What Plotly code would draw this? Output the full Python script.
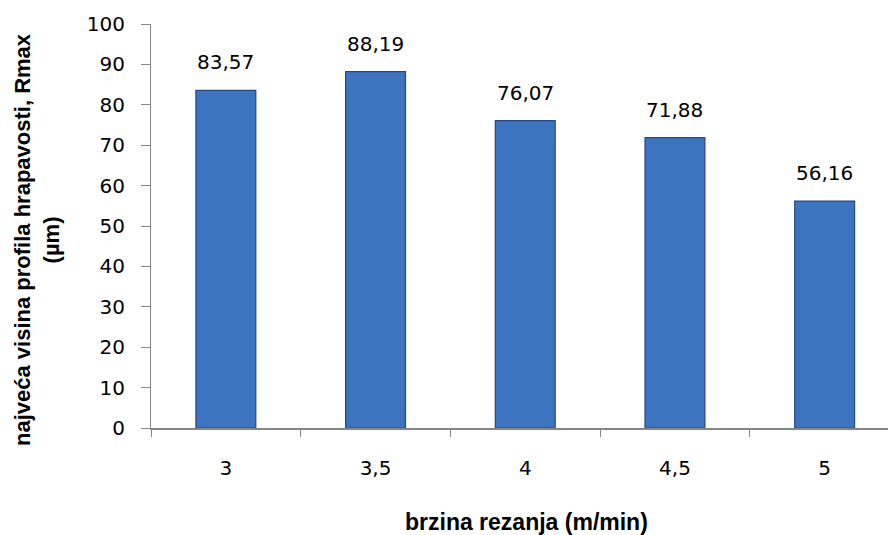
import plotly.graph_objects as go

categories = ["3", "3,5", "4", "4,5", "5"]
values = [83.57, 88.19, 76.07, 71.88, 56.16]
y_ticks = [0, 10, 20, 30, 40, 50, 60, 70, 80, 90, 100]

x_title = "brzina rezanja (m/min)"
y_title = "najveća visina profila hrapavosti, Rmax<br>(µm)"

NUM_FONT = "DejaVu Sans, Verdana, sans-serif"
TITLE_FONT = "Liberation Sans, Arial, sans-serif"
AXIS_COLOR = "#868686"

W, H = 888, 535
ML, MR, MT, MB = 151, 0, 24, 107
plot_w = W - ML - MR
plot_h = H - MT - MB

fig = go.Figure()
fig.add_trace(go.Bar(
    x=categories,
    y=values,
    marker=dict(color="#3C74C0", line=dict(color="#25487E", width=1.2)),
    width=0.4,
    hoverinfo="x+y",
))

labels = [f"{v:.2f}".replace(".", ",") for v in values]
for i, (v, t) in enumerate(zip(values, labels)):
    fig.add_annotation(x=i, y=v, text=t, showarrow=False, xref="x", yref="y",
                       yanchor="bottom", yshift=14,
                       font=dict(family=NUM_FONT, size=20, color="#000000"))

# axis titles
fig.add_annotation(text=y_title, xref="paper", yref="paper",
                   x=-(ML - 37) / plot_w, y=(MT + plot_h - 240) / plot_h,
                   xanchor="center", yanchor="middle",
                   textangle=-90, showarrow=False,
                   font=dict(family=TITLE_FONT, size=22, color="#000000", weight="bold"))
fig.add_annotation(text=x_title, xref="paper", yref="paper",
                   x=(526 - ML) / plot_w, y=-(522 - (MT + plot_h)) / plot_h,
                   xanchor="center", yanchor="middle", showarrow=False,
                   font=dict(family=TITLE_FONT, size=23, color="#000000", weight="bold"))

fig.update_layout(
    width=W, height=H,
    margin=dict(l=ML, r=MR, t=MT, b=MB, pad=0, autoexpand=False),
    paper_bgcolor="white", plot_bgcolor="white",
    showlegend=False,
    font=dict(family=NUM_FONT, size=20, color="#000000"),
)
fig.update_xaxes(
    type="category", automargin=False,
    range=[-0.5, -0.5 + plot_w / 149.7],
    showline=True, linecolor=AXIS_COLOR, linewidth=2,
    ticks="outside", tickson="boundaries", ticklen=7, tickcolor=AXIS_COLOR, tickwidth=1,
    ticklabelstandoff=21,
    showgrid=False, zeroline=False,
    tickfont=dict(family=NUM_FONT, size=20, color="#000000"),
)
fig.update_yaxes(
    range=[0, 100], tickvals=y_ticks, automargin=False,
    showline=True, linecolor=AXIS_COLOR, linewidth=1,
    ticks="outside", ticklen=9, tickcolor=AXIS_COLOR, tickwidth=1,
    ticklabelstandoff=12,
    showgrid=False, zeroline=False,
    tickfont=dict(family=NUM_FONT, size=20, color="#000000"),
)

fig.write_html("out.html",
               config={"displayModeBar": False},
               post_script="document.body.style.margin='0';document.body.style.overflow='hidden';")
